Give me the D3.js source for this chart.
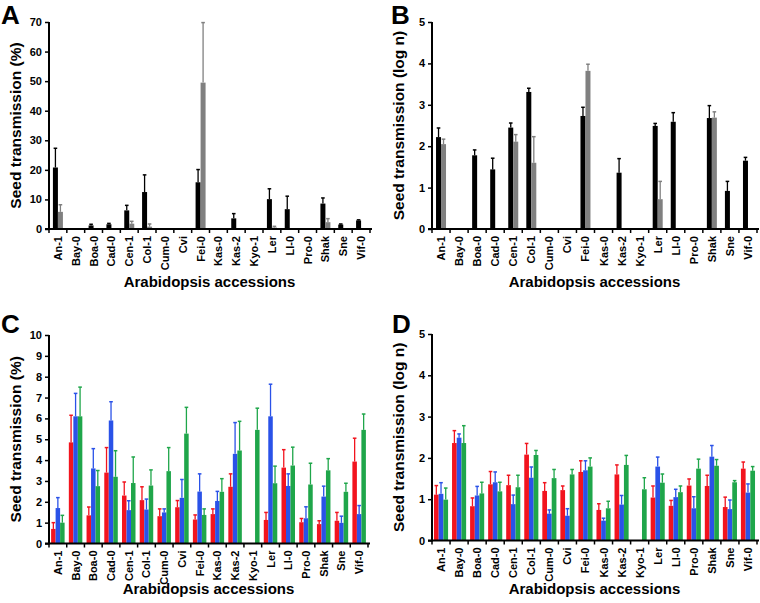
<!DOCTYPE html>
<html>
<head>
<meta charset="utf-8">
<script src="https://cdn.jsdelivr.net/npm/d3@7"></script>
<style>
  body { margin: 0; background: #fff; }
  svg text { font-family: "Liberation Sans", Arial, sans-serif; font-weight: bold; }
</style>
</head>
<body>
<svg id="fig" width="760" height="603"></svg>
<script>
// categories shared by all four panels
var accessions = ["An-1", "Bay-0", "Boa-0", "Cad-0", "Cen-1", "Col-1", "Cum-0", "Cvi", "Fei-0",
  "Kas-0", "Kas-2", "Kyo-1", "Ler", "Ll-0", "Pro-0", "Shak", "Sne", "Vif-0"];

// panel A - seed transmission (%)
var aBlack    = [20.8, 0, 1.2, 1.6, 6.3, 12.5, 0, 0, 15.8, 0, 3.6, 0, 10.1, 6.7, 0, 8.6, 1.5, 2.9];
var aBlackErr = [6.5, 0, 0.4, 0.3, 1.7, 5.8, 0, 0, 4.3, 0, 1.6, 0, 3.5, 4.4, 0, 1.9, 0.2, 0.2];
var aGray     = [5.8, 0, 0, 0, 1.8, 0.8, 0, 0, 49.5, 0, 0, 0, 0.5, 0, 0, 2.3, 0, 0];
var aGrayErr  = [2.4, 0, 0, 0, 0.8, 0.9, 0, 0, 20.3, 0, 0, 0, 0.4, 0, 0, 1.2, 0, 0];

// panel B - seed transmission (log n)
var bBlack    = [2.22, 0, 1.78, 1.44, 2.45, 3.31, 0, 0, 2.73, 0, 1.36, 0, 2.49, 2.59, 0, 2.68, 0.92, 1.65];
var bBlackErr = [0.22, 0, 0.13, 0.27, 0.11, 0.09, 0, 0, 0.21, 0, 0.34, 0, 0.06, 0.22, 0, 0.30, 0.23, 0.08];
var bGray     = [2.05, 0, 0, 0, 2.11, 1.60, 0, 0, 3.82, 0, 0, 0, 0.72, 0, 0, 2.69, 0, 0];
var bGrayErr  = [0.12, 0, 0, 0, 0.17, 0.63, 0, 0, 0.16, 0, 0, 0, 0.43, 0, 0, 0.14, 0, 0];

// panel C - seed transmission (%), three series
var cRed      = [0.7, 4.85, 1.35, 3.4, 2.3, 2.08, 1.31, 1.74, 1.15, 1.41, 2.72, 0, 1.13, 3.64, 1.02, 0.93, 1.09, 3.93];
var cRedErr   = [0.3, 1.3, 0.4, 1.2, 0.65, 0.64, 0.35, 0.32, 0.22, 0.25, 0.62, 0, 0.36, 0.86, 0.18, 0.16, 0.4, 1.12];
var cBlue     = [1.7, 6.1, 3.6, 5.9, 1.6, 1.63, 1.49, 2.19, 2.49, 2.04, 4.3, 0, 6.1, 2.76, 1.21, 2.25, 0.99, 1.41];
var cBlueErr  = [0.5, 1.1, 0.95, 0.9, 0.45, 0.5, 0.17, 0.88, 0.85, 0.46, 1.5, 0, 1.54, 0.58, 0.55, 0.5, 0.32, 0.41];
var cGreen    = [1.0, 6.1, 2.75, 3.2, 2.9, 2.78, 3.47, 5.27, 1.37, 2.48, 4.46, 5.45, 2.89, 3.74, 2.83, 3.51, 2.48, 5.45];
var cGreenErr = [0.35, 1.4, 0.75, 1.25, 1.25, 0.75, 1.13, 1.26, 0.29, 0.63, 1.4, 1.04, 0.82, 0.88, 1.02, 0.56, 0.41, 0.76];

// panel D - seed transmission (log n), three series
var dRed      = [1.11, 2.36, 0.83, 1.36, 1.34, 2.08, 1.2, 1.22, 1.66, 0.74, 1.6, 0, 1.04, 0.84, 1.33, 1.32, 0.81, 1.74];
var dRedErr   = [0.22, 0.3, 0.2, 0.31, 0.24, 0.27, 0.2, 0.1, 0.27, 0.15, 0.23, 0, 0.28, 0.13, 0.16, 0.26, 0.24, 0.16];
var dBlue     = [1.13, 2.49, 1.09, 1.41, 0.88, 1.52, 0.65, 0.6, 1.7, 0.48, 0.87, 0, 1.79, 1.05, 0.78, 2.03, 0.76, 1.16];
var dBlueErr  = [0.27, 0.09, 0.22, 0.25, 0.22, 0.26, 0.09, 0.17, 0.23, 0.06, 0.22, 0, 0.23, 0.19, 0.28, 0.27, 0.22, 0.21];
var dGreen    = [0.99, 2.36, 1.14, 1.19, 1.29, 2.07, 1.51, 1.6, 1.79, 0.78, 1.83, 1.24, 1.4, 1.17, 1.74, 1.81, 1.41, 1.69];
var dGreenErr = [0.28, 0.42, 0.27, 0.22, 0.29, 0.11, 0.21, 0.12, 0.21, 0.17, 0.23, 0.28, 0.21, 0.15, 0.23, 0.15, 0.04, 0.1];

var svg = d3.select("#fig");

// draws one panel; left/right/top/bottom are the plot edges in page pixels
function drawPanel(p) {
  var g = svg.append("g");

  var x = d3.scaleBand().domain(accessions).range([p.left, p.right]);
  var y = d3.scaleLinear().domain([0, p.max]).range([p.bottom, p.top]);
  var sub = d3.scaleBand().domain(d3.range(p.series.length))
      .range([0, p.barW * p.series.length]);

  // bars + upper error bars
  p.series.forEach(function(s, si) {
    var rows = accessions.map(function(a, i) { return { cat: a, v: s.values[i], e: s.err[i] }; })
        .filter(function(d) { return d.v > 0; });
    var off = function(d) {
      return x(d.cat) + x.bandwidth() / 2 - p.barW * p.series.length / 2 + sub(si);
    };

    g.selectAll(".eb" + si).data(rows).enter().append("line")
      .attr("x1", function(d) { return off(d) + p.barW / 2; })
      .attr("x2", function(d) { return off(d) + p.barW / 2; })
      .attr("y1", function(d) { return y(d.v); })
      .attr("y2", function(d) { return y(d.v + d.e); })
      .attr("stroke", s.color).attr("stroke-width", 1.3);
    g.selectAll(".cap" + si).data(rows).enter().append("line")
      .attr("x1", function(d) { return off(d) + p.barW / 2 - 1.8; })
      .attr("x2", function(d) { return off(d) + p.barW / 2 + 1.8; })
      .attr("y1", function(d) { return y(d.v + d.e); })
      .attr("y2", function(d) { return y(d.v + d.e); })
      .attr("stroke", s.color).attr("stroke-width", 1.5);

    g.selectAll(".bar" + si).data(rows).enter().append("rect")
      .attr("x", off)
      .attr("width", p.barW)
      .attr("y", function(d) { return y(d.v); })
      .attr("height", function(d) { return p.bottom - y(d.v); })
      .attr("fill", s.color);
  });

  // y axis
  var yAxis = g.append("g").attr("transform", "translate(" + p.left + ",0)")
      .call(d3.axisLeft(y).tickValues(p.ticks).tickFormat(d3.format("d")).tickSize(4).tickPadding(3));
  yAxis.select(".domain").attr("stroke-width", 2).attr("d", "M0," + (p.bottom + 1) + "V" + p.top);
  yAxis.selectAll("line").attr("stroke-width", 1.5);
  yAxis.selectAll("text").style("font-size", "11px").attr("fill", "#000");

  // x axis: ticks sit between categories
  g.append("line").attr("x1", p.left - 4).attr("x2", p.right + 2)
    .attr("y1", p.bottom).attr("y2", p.bottom)
    .attr("stroke", "#000").attr("stroke-width", 2);
  g.selectAll(".xt").data(d3.range(accessions.length + 1)).enter().append("line")
    .attr("x1", function(i) { return p.left + i * x.step(); })
    .attr("x2", function(i) { return p.left + i * x.step(); })
    .attr("y1", p.bottom).attr("y2", p.bottom + 4)
    .attr("stroke", "#000").attr("stroke-width", 1.5);
  g.selectAll(".xl").data(accessions).enter().append("text")
    .attr("transform", function(d) {
      return "translate(" + (x(d) + x.bandwidth() / 2 + 4) + "," + (p.bottom + 7) + ") rotate(-90)";
    })
    .attr("text-anchor", "end")
    .style("font-size", "11px")
    .text(function(d) { return d; });

  // titles
  g.append("text")
    .attr("x", (p.left + p.right) / 2).attr("y", p.xlabelY)
    .attr("text-anchor", "middle").style("font-size", "15px")
    .text("Arabidopsis accessions");
  g.append("text")
    .attr("transform", "translate(" + (p.left - 28) + "," + ((p.top + p.bottom) / 2) + ") rotate(-90)")
    .attr("text-anchor", "middle").style("font-size", "15.5px")
    .text(p.ylabel);
  g.append("text")
    .attr("x", p.letterX).attr("y", p.letterY)
    .style("font-size", "26px")
    .text(p.letter);
}

var black = "#000000", gray = "#808080", red = "#f2141e", blue = "#2a52e8", green = "#1fa64a";

drawPanel({ letter: "A", letterX: 1, letterY: 24, left: 49, right: 370, top: 22, bottom: 229,
  xlabelY: 287, max: 70, ticks: d3.range(0, 71, 10), barW: 5, ylabel: "Seed transmission (%)",
  series: [{ values: aBlack, err: aBlackErr, color: black }, { values: aGray, err: aGrayErr, color: gray }] });

drawPanel({ letter: "B", letterX: 391, letterY: 24, left: 432, right: 757, top: 22, bottom: 229,
  xlabelY: 287, max: 5, ticks: d3.range(0, 6), barW: 5, ylabel: "Seed transmission (log n)",
  series: [{ values: bBlack, err: bBlackErr, color: black }, { values: bGray, err: bGrayErr, color: gray }] });

drawPanel({ letter: "C", letterX: 1, letterY: 333, left: 49, right: 368, top: 335, bottom: 543.5,
  xlabelY: 594, max: 10, ticks: d3.range(0, 11), barW: 4.5, ylabel: "Seed transmission (%)",
  series: [{ values: cRed, err: cRedErr, color: red }, { values: cBlue, err: cBlueErr, color: blue },
           { values: cGreen, err: cGreenErr, color: green }] });

drawPanel({ letter: "D", letterX: 392, letterY: 333, left: 432, right: 757, top: 334, bottom: 540.5,
  xlabelY: 594, max: 5, ticks: d3.range(0, 6), barW: 4.7, ylabel: "Seed transmission (log n)",
  series: [{ values: dRed, err: dRedErr, color: red }, { values: dBlue, err: dBlueErr, color: blue },
           { values: dGreen, err: dGreenErr, color: green }] });
</script>
</body>
</html>
